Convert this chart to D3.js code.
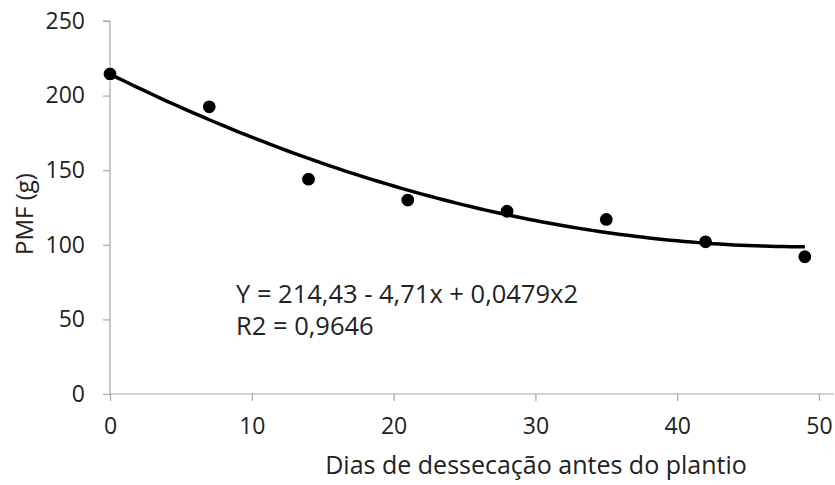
<!DOCTYPE html>
<html>
<head>
  <meta charset="utf-8">
  <title>PMF</title>
  <style>
    body { margin: 0; background: #fff; }
    svg text { font-family: 'Open Sans', sans-serif; fill: #222; }
  </style>
  <script src="https://d3js.org/d3.v7.min.js"></script>
</head>
<body>
  <svg id="chart" width="835" height="485"></svg>
  <script>
    // dados
    var dias = [0, 7, 14, 21, 28, 35, 42, 49];
    var pmf = [214.5, 192.5, 144, 130, 122.5, 117, 102, 92];
    var coef = [214.43, -4.71, 0.0479];   // Y = a + bx + cx2
    var xTicks = [0, 10, 20, 30, 40, 50];
    var yTicks = [0, 50, 100, 150, 200, 250];
    var eqLabel = "Y = 214,43 - 4,71x + 0,0479x2";
    var r2Label = "R2 = 0,9646";

    var svg = d3.select("#chart");
    var x = d3.scaleLinear().domain([0, 50]).range([110, 819]);
    var y = d3.scaleLinear().domain([0, 250]).range([394, 21]);

    var axisColor = "#a6a6a6";

    // eixo y
    var gy = svg.append("g").attr("transform", "translate(110,0)")
      .call(d3.axisLeft(y).tickValues(yTicks).tickSize(7).tickPadding(18));
    // eixo x
    var gx = svg.append("g").attr("transform", "translate(0,394)")
      .call(d3.axisBottom(x).tickValues(xTicks).tickSize(7).tickPadding(17));

    [gx, gy].forEach(function (g) {
      g.select(".domain").attr("stroke", axisColor).attr("stroke-width", 1.2);
      g.selectAll(".tick line").attr("stroke", axisColor).attr("stroke-width", 1.2);
      g.selectAll(".tick text").style("font-size", "23px").attr("fill", "#222");
    });
    gy.select(".domain").attr("d", "M-7," + y(250) + "H0V" + y(0));
    gx.select(".domain").attr("d", "M" + x(0) + ",0H834");

    // pontos
    svg.append("g").selectAll("circle")
      .data(dias)
      .enter().append("circle")
      .attr("cx", function (d) { return x(d); })
      .attr("cy", function (d, i) { return y(pmf[i]); })
      .attr("r", 7)
      .attr("fill", "#000")
      .attr("stroke", "#fff")
      .attr("stroke-width", 1.2);

    // linha de tendencia polinomial
    var trend = d3.range(0, 49.01, 0.5).map(function (t) {
      return [t, coef[0] + coef[1] * t + coef[2] * t * t];
    });
    var line = d3.line()
      .x(function (d) { return x(d[0]); })
      .y(function (d) { return y(d[1]); });
    svg.append("path")
      .datum(trend)
      .attr("d", line)
      .attr("fill", "none")
      .attr("stroke", "#000")
      .attr("stroke-width", 3.5);

    // equacao
    svg.append("text").attr("x", 236).attr("y", 303)
      .style("font-size", "25.5px").text(eqLabel);
    svg.append("text").attr("x", 236).attr("y", 335)
      .style("font-size", "25.5px").text(r2Label);

    // titulos
    svg.append("text")
      .attr("x", 536).attr("y", 474)
      .attr("text-anchor", "middle")
      .style("font-size", "25px")
      .text("Dias de dessecação antes do plantio");
    svg.append("text")
      .attr("transform", "translate(33,214) rotate(-90)")
      .attr("text-anchor", "middle")
      .style("font-size", "24px")
      .text("PMF (g)");
  </script>
</body>
</html>
